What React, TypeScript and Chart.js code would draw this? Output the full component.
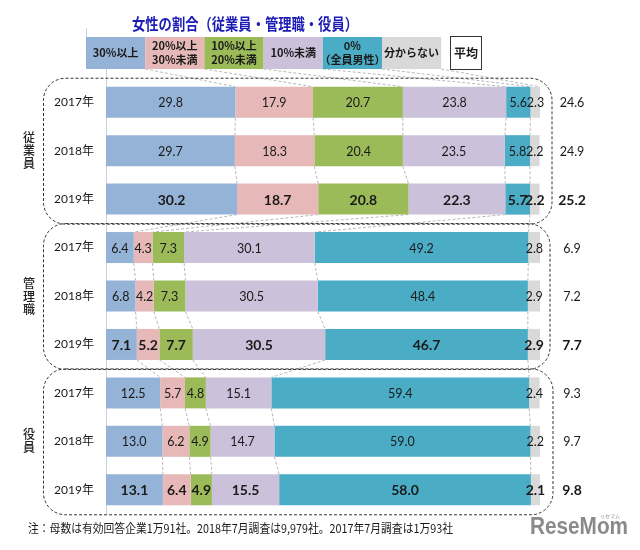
import React, { useEffect, useRef } from "react";
import { Chart, registerables } from "chart.js";
Chart.register(...registerables);

const title = "女性の割合（従業員・管理職・役員）";
const groups = ["従業員", "管理職", "役員"];
const years = ["2017年", "2018年", "2019年"];
const rowLabels = [
  "従業員 2017年", "従業員 2018年", "従業員 2019年",
  "管理職 2017年", "管理職 2018年", "管理職 2019年",
  "役員 2017年", "役員 2018年", "役員 2019年",
];
const seriesNames = [
  ["30%以上"],
  ["20%以上", "30%未満"],
  ["10%以上", "20%未満"],
  ["10%未満"],
  ["0%", "（全員男性）"],
  ["分からない"],
];
const s30 = [29.8, 29.7, 30.2, 6.4, 6.8, 7.1, 12.5, 13.0, 13.1];
const s20 = [17.9, 18.3, 18.7, 4.3, 4.2, 5.2, 5.7, 6.2, 6.4];
const s10 = [20.7, 20.4, 20.8, 7.3, 7.3, 7.7, 4.8, 4.9, 4.9];
const sUnder10 = [23.8, 23.5, 22.3, 30.1, 30.5, 30.5, 15.1, 14.7, 15.5];
const sZero = [5.6, 5.8, 5.7, 49.2, 48.4, 46.7, 59.4, 59.0, 58.0];
const sUnknown = [2.3, 2.2, 2.2, 2.8, 2.9, 2.9, 2.4, 2.2, 2.1];
const averages = [24.6, 24.9, 25.2, 6.9, 7.2, 7.7, 9.3, 9.7, 9.8];
const avgHeader = "平均";
const footnote = "注：母数は有効回答企業1万91社。2018年7月調査は9,979社。2017年7月調査は1万93社";

const colors = ["#95b3d7", "#e6b9b8", "#9bbb59", "#ccc1da", "#4bacc6", "#d9d9d9"];
const JP = "'Noto Sans CJK JP', sans-serif";
const NUM = "Lato, 'Noto Sans CJK JP', sans-serif";

function fitText(ctx: any, text: string, x: number, y: number, width: number) {
  const w = ctx.measureText(text).width;
  const s = Math.min(1, width / w);
  ctx.save();
  ctx.translate(x, y);
  ctx.scale(s, 1);
  ctx.fillText(text, 0, 0);
  ctx.restore();
}

const overlay = {
  id: "overlay",
  beforeDatasetsDraw(chart: any) {
    const ctx = chart.ctx;
    const ys = chart.scales.y;
    const xs = chart.scales.x;
    const area = chart.chartArea;
    ctx.save();
    ctx.strokeStyle = "#c9d3de";
    ctx.lineWidth = 1;
    ctx.beginPath();
    ctx.moveTo(area.left + 0.5, 69);
    ctx.lineTo(area.left + 0.5, area.bottom);
    ctx.stroke();
    const hx0 = 86, hw = 59.2, hy1 = 69;
    ctx.strokeStyle = "#b8b8b8";
    ctx.setLineDash([3, 2]);
    const data = [s30, s20, s10, sUnder10, sZero, sUnknown];
    const cum = (row: number, k: number) => {
      let s = 0;
      for (let j = 0; j < k; j++) s += data[j][row];
      return Math.min(s, 100);
    };
    const half = 15.5;
    for (let k = 1; k <= 6; k++) {
      const yTop = ys.getPixelForValue(0) - half;
      ctx.beginPath();
      ctx.moveTo(hx0 + hw * k, hy1);
      ctx.lineTo(xs.getPixelForValue(cum(0, k)), yTop);
      ctx.stroke();
    }
    for (let r = 0; r < rowLabels.length - 1; r++) {
      for (let k = 1; k <= 5; k++) {
        ctx.beginPath();
        ctx.moveTo(xs.getPixelForValue(cum(r, k)), ys.getPixelForValue(r) + half);
        ctx.lineTo(xs.getPixelForValue(cum(r + 1, k)), ys.getPixelForValue(r + 1) - half);
        ctx.stroke();
      }
    }
    ctx.setLineDash([]);
    ctx.restore();
  },
  afterDatasetsDraw(chart: any) {
    const ctx = chart.ctx;
    const ys = chart.scales.y;
    ctx.save();
    chart.data.datasets.forEach((ds: any, di: number) => {
      const meta = chart.getDatasetMeta(di);
      meta.data.forEach((el: any, i: number) => {
        const bold = i % 3 === 2;
        ctx.font = (bold ? "bold 14px " : "12.5px ") + NUM;
        ctx.fillStyle = "#1a1a1a";
        ctx.textAlign = "center";
        ctx.textBaseline = "middle";
        const cx = (el.x + el.base) / 2;
        ctx.fillText(ds.data[i].toFixed(1), cx, el.y + 1);
      });
    });
    averages.forEach((v, i) => {
      const bold = i % 3 === 2;
      ctx.font = (bold ? "bold 14px " : "12.5px ") + NUM;
      ctx.fillStyle = "#1a1a1a";
      ctx.textAlign = "center";
      ctx.textBaseline = "middle";
      ctx.fillText(v.toFixed(1), 572, ys.getPixelForValue(i) + 1);
    });
    rowLabels.forEach((_, i) => {
      ctx.font = "12px " + NUM;
      ctx.fillStyle = "#1a1a1a";
      ctx.textAlign = "center";
      ctx.textBaseline = "middle";
      ctx.fillText(years[i % 3], 74, ys.getPixelForValue(i));
    });
    const rights = [552, 550, 553];
    groups.forEach((g, gi) => {
      const top = ys.getPixelForValue(gi * 3) - 24.5;
      const bot = ys.getPixelForValue(gi * 3 + 2) + 24.5;
      ctx.strokeStyle = "#333";
      ctx.lineWidth = 1;
      ctx.setLineDash([3, 2]);
      ctx.beginPath();
      ctx.roundRect(43.5, top + 0.5, rights[gi] - 43.5, bot - top, 22);
      ctx.stroke();
      ctx.setLineDash([]);
      const mid = (top + bot) / 2;
      ctx.font = "500 12px " + JP;
      ctx.fillStyle = "#222";
      ctx.textAlign = "center";
      ctx.textBaseline = "middle";
      const chars = Array.from(g);
      chars.forEach((c, ci) => {
        ctx.fillText(c, 29, mid + (ci - (chars.length - 1) / 2) * 13);
      });
    });
    const hx0 = 86, hw = 59.2, hy0 = 37, hy1 = 69;
    seriesNames.forEach((lines, k) => {
      ctx.fillStyle = colors[k];
      ctx.fillRect(hx0 + hw * k, hy0, hw, hy1 - hy0);
      ctx.fillStyle = "#1a1a1a";
      ctx.font = "bold 11px " + JP;
      ctx.textAlign = "center";
      ctx.textBaseline = "middle";
      const cx = hx0 + hw * k + hw / 2;
      const cy = (hy0 + hy1) / 2;
      lines.forEach((t, li) => {
        ctx.fillText(t, cx, cy + (li - (lines.length - 1) / 2) * 14);
      });
    });
    ctx.strokeStyle = "#c9d3de";
    ctx.beginPath();
    ctx.moveTo(hx0 + 0.5, 28);
    ctx.lineTo(hx0 + 0.5, hy0);
    ctx.stroke();
    ctx.fillStyle = "#fff";
    ctx.fillRect(450, 36, 31, 33);
    ctx.strokeStyle = "#333";
    ctx.lineWidth = 1;
    ctx.strokeRect(450.5, 36.5, 31, 33);
    ctx.fillStyle = "#1a1a1a";
    ctx.font = "bold 12px " + JP;
    ctx.textAlign = "center";
    ctx.fillText(avgHeader, 466, 53);
    // title
    ctx.font = "bold 16px " + JP;
    ctx.fillStyle = "#1c1cb5";
    ctx.textAlign = "left";
    fitText(ctx, title, 132, 24, 226);
    // footnote
    ctx.font = "12px " + JP;
    ctx.fillStyle = "#1a1a1a";
    ctx.textAlign = "left";
    fitText(ctx, footnote, 28, 528, 425);
    // logo
    ctx.font = "bold 23px 'Liberation Sans Narrow', 'Liberation Sans', sans-serif";
    ctx.fillStyle = "#8a8a8a";
    ctx.textAlign = "left";
    fitText(ctx, "ReseMom", 530, 528, 98);
    ctx.font = "5px " + JP;
    ctx.fillText("リセマム", 600, 516);
    ctx.restore();
  },
};

export default function App() {
  const ref = useRef<HTMLCanvasElement>(null);
  useEffect(() => {
    if (!ref.current) return;
    const series = [s30, s20, s10, sUnder10, sZero, sUnknown];
    const chart = new Chart(ref.current, {
      type: "bar",
      data: {
        labels: rowLabels,
        datasets: series.map((d, k) => ({
          label: seriesNames[k].join(""),
          data: d,
          backgroundColor: colors[k],
          borderWidth: 0,
          barPercentage: 1,
          categoryPercentage: 0.64,
        })),
      },
      options: {
        indexAxis: "y",
        responsive: false,
        animation: false,
        layout: { padding: { left: 106, right: 100, top: 78, bottom: 36 } },
        scales: {
          x: { stacked: true, min: 0, max: 100, display: false },
          y: { stacked: true, display: false },
        },
        plugins: {
          legend: { display: false },
          tooltip: { enabled: false },
        },
      },
      plugins: [overlay],
    } as any);
    return () => chart.destroy();
  }, []);
  return (
    <div style={{ position: "absolute", left: 0, top: 0, width: 640, height: 550, background: "#fff" }}>
      <canvas ref={ref} width={640} height={550} />
    </div>
  );
}
